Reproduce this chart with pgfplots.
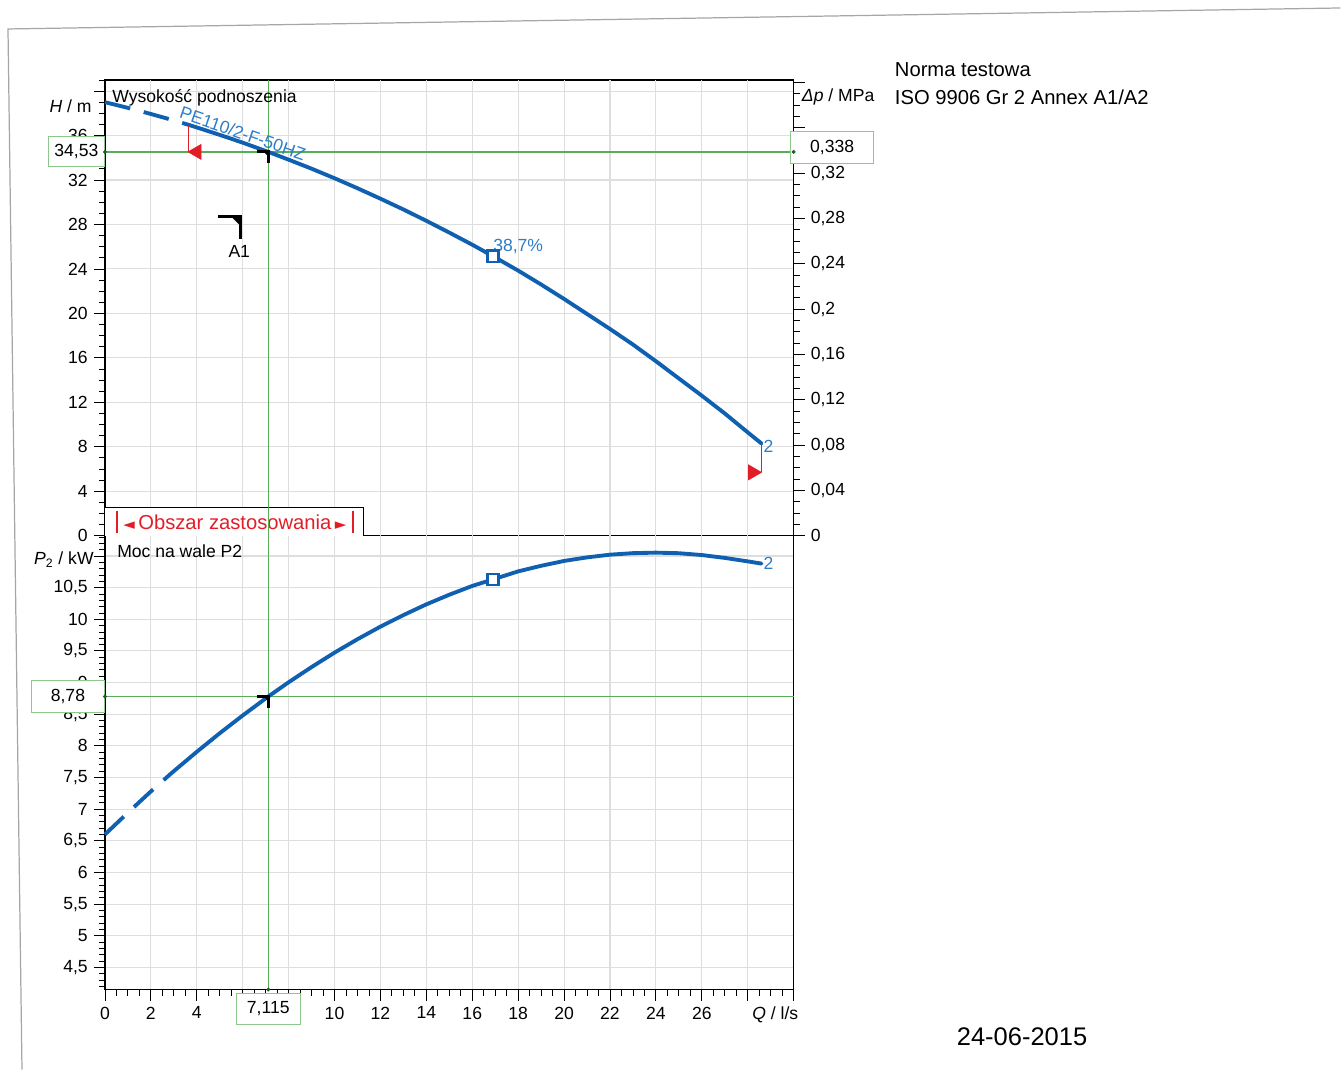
\documentclass[border=0pt]{standalone}
\usepackage{pgfplots}
\pgfplotsset{compat=1.18}
\usepackage{fontspec}
\setmainfont{Liberation Sans}
\newfontfamily\symfont{DejaVu Sans}

\definecolor{curve}{RGB}{16,96,178}
\definecolor{curvetext}{RGB}{45,125,200}
\definecolor{opgreen}{RGB}{85,175,85}
\definecolor{boxgreen}{RGB}{140,200,140}
\definecolor{dotgreen}{RGB}{40,90,40}
\definecolor{redmark}{RGB}{225,30,40}
\definecolor{gridgray}{RGB}{222,222,222}

% corner marker used for the duty point and the A1 key
\pgfdeclareplotmark{corner}{%
  \pgfpathmoveto{\pgfpoint{-\pgfplotmarksize}{0pt}}%
  \pgfpathlineto{\pgfpoint{0pt}{0pt}}%
  \pgfpathlineto{\pgfpoint{0pt}{-\pgfplotmarksize}}%
  \pgfusepathqstroke
  \pgfpathmoveto{\pgfpoint{-0.4\pgfplotmarksize}{0pt}}%
  \pgfpathlineto{\pgfpoint{0pt}{0pt}}%
  \pgfpathlineto{\pgfpoint{0pt}{-0.4\pgfplotmarksize}}%
  \pgfpathclose\pgfusepathqfill
}

\tikzset{
  valbox/.style={draw=boxgreen, fill=white, line width=0.6pt, inner sep=0pt,
    font=\fontsize{10}{12}\selectfont},
}

\pgfplotsset{
  pumpaxis/.style={
    set layers,
    scale only axis,
    width=13.78cm,
    xmin=0, xmax=30,
    clip=false,
    axis line style={black, line width=0.8pt},
    tick style={black, line width=0.5pt},
    major tick length=2.2mm,
    minor tick length=1.2mm,
    tick align=outside,
    major grid style={gridgray, line width=0.6pt},
    tick label style={font=\fontsize{10}{12}\selectfont},
    /pgf/number format/use comma,
    /pgf/number format/1000 sep={},
    /pgf/number format/assume math mode=true,
  },
  solidcurve/.style={curve, line width=2.2pt, line join=round, line cap=round},
  dashcurve/.style={curve, line width=2.2pt, dash pattern=on 5.2mm off 2.8mm},
  opline/.style={opgreen, line width=0.75pt},
  dots/.style={only marks, mark=*, mark size=0.9pt, dotgreen},
  effmark/.style={only marks, mark=square*, mark size=3.2pt,
    mark options={fill=white, draw=curve, line width=1.4pt}},
}

\begin{document}
\begin{tikzpicture}
% page size of the scan
\path (0,0) rectangle (26.82,21.40);

% page edge from the scan
\draw[gray!70, line width=0.7pt] (0.44,0) -- (0.16,20.82) -- (26.82,21.24);

% ---------------- head curve H(Q) ----------------
\begin{axis}[pumpaxis, at={(2.10cm,10.68cm)}, anchor=south west, height=9.12cm,
  ymin=0, ymax=41,
  xtick=\empty,
  ytick={0,4,...,36}, extra y ticks={40}, extra y tick labels={},
  minor ytick={0,1,...,41},
  ymajorgrids, ytick pos=left]
  \pgfplotsinvokeforeach{2,4,6,8,10,12,14,16,18,20,22,24,26,28}{
    \addplot[gridgray, line width=0.6pt] coordinates {(#1,0) (#1,41)};
  }
  % application range box
  \draw[black, line width=0.6pt, fill=white] (axis cs:0,0) -- (axis cs:0,2.52)
    -- (axis cs:11.28,2.52) -- (axis cs:11.28,0);
  \draw[redmark, line width=1pt] (axis cs:0.52,0.27) -- (axis cs:0.52,2.2);
  \draw[redmark, line width=1pt] (axis cs:10.8,0.27) -- (axis cs:10.8,2.2);
  \node[redmark, font=\fontsize{11.5}{13}\selectfont] at (axis cs:5.66,1.2)
    {{\symfont\fontsize{8.5}{9}\selectfont ◄}\,Obszar zastosowania\,{\symfont\fontsize{8.5}{9}\selectfont ►}};

  \addplot[opline] coordinates {(7.115,0) (7.115,41)};
  \addplot[opline] coordinates {(0,34.53) (30,34.53)};

  \addplot[dashcurve] coordinates {(0,39.0) (1,38.49) (2,37.94) (3,37.36) (3.65,36.96)};
  \addplot[solidcurve] coordinates {
    (3.65,36.96) (4,36.73) (5,36.06) (6,35.36) (7.115,34.53) (8,33.83) (9,33.02)
    (10,32.16) (11,31.26) (12,30.32) (13,29.35) (14,28.33) (15,27.27) (16,26.18)
    (16.9,25.15) (18,23.85) (19,22.6) (20,21.3) (21,19.95) (22,18.6) (23,17.2)
    (24,15.7) (25,14.15) (26,12.6) (27,11.0) (28,9.3) (28.6,8.3)};
  \addplot[effmark] coordinates {(16.9,25.15)};
  \node[anchor=base west, text=curvetext, font=\fontsize{10}{12}\selectfont, inner sep=0pt]
    at (axis cs:16.9,25.6) {38,7\%};
  \node[anchor=west, text=curvetext, font=\fontsize{10}{12}\selectfont, inner sep=1pt]
    at (axis cs:28.6,8.0) {2};
  \node[anchor=base west, rotate=-19, text=curvetext, font=\fontsize{10}{12}\selectfont, inner sep=0pt]
    at (axis cs:3.2,37.6) {PE110/2-F-50HZ};

  % operating range limits
  \addplot[redmark, line width=0.5pt] coordinates {(3.65,34.53) (3.65,36.96)};
  \addplot[only marks, mark=triangle*, mark size=4.9pt,
    mark options={rotate=90, fill=redmark, draw=redmark}] coordinates {(4.0,34.53)};
  \addplot[redmark, line width=0.5pt] coordinates {(28.6,5.7) (28.6,8.3)};
  \addplot[only marks, mark=triangle*, mark size=4.9pt,
    mark options={rotate=-90, fill=redmark, draw=redmark}] coordinates {(28.22,5.7)};

  % duty point and A1 key
  \addplot[only marks, mark=corner, mark size=2.3mm,
    mark options={black, line width=1.8pt}] coordinates {(7.115,34.53)};
  \addplot[only marks, mark=corner, mark size=4.5mm,
    mark options={black, line width=1.8pt}] coordinates {(5.9,28.7)};
  \node[font=\fontsize{10}{12}\selectfont] at (axis cs:5.85,25.6) {A1};

  \addplot[dots] coordinates {(0,34.53)};
  \node[valbox, anchor=east, minimum width=1.12cm, minimum height=0.6cm]
    at (axis cs:0,34.53) {34,53};

  \node[anchor=base west, font=\fontsize{10}{12}\selectfont, inner sep=0pt]
    at (rel axis cs:0.0102,0.9496) {Wysokość podnoszenia};
  \node[anchor=east, font=\fontsize{10}{12}\selectfont, inner sep=0pt, xshift=-2.6mm]
    at (axis cs:0,38.6) {\textit{H} / m};
\end{axis}

% ---------------- pressure scale on the right ----------------
\begin{axis}[pumpaxis, at={(2.10cm,10.68cm)}, anchor=south west, height=9.12cm,
  ymin=0, ymax=0.4022,
  axis y line*=right, axis x line=none,
  ytick={0,0.04,0.08,0.12,0.16,0.2,0.24,0.28,0.32},
  extra y ticks={0.36,0.4}, extra y tick labels={},
  minor ytick={0,0.01,...,0.40},
  y tick label style={/pgf/number format/fixed, /pgf/number format/precision=2}]
  \addplot[draw=none] coordinates {(0,0)};
  \addplot[dots] coordinates {(30,0.3387)};
  \node[valbox, anchor=west, minimum width=1.66cm, minimum height=0.64cm, yshift=0.08cm]
    at (axis cs:29.85,0.3387) {0,338};
  \node[anchor=west, font=\fontsize{10}{12}\selectfont, inner sep=0pt, xshift=1.6mm]
    at (axis cs:30,0.3875) {\textit{Δp} / MPa};
\end{axis}

% ---------------- shaft power P2(Q) ----------------
\begin{axis}[pumpaxis, at={(2.10cm,1.60cm)}, anchor=south west, height=9.08cm,
  ymin=4.15, ymax=11.32,
  xtick={0,2,...,30},
  xticklabels={0,2,4,{},{},10,12,14,16,18,20,22,24,26,{},{}},
  minor xtick={0,0.5,...,30},
  ytick={4.5,5,...,10.5}, extra y ticks={11}, extra y tick labels={},
  minor ytick={4.2,4.3,...,11.3},
  grid=major, xtick pos=left, ytick pos=left]
  \addplot[opline] coordinates {(7.115,4.15) (7.115,11.32)};
  \addplot[opline] coordinates {(0,8.78) (30,8.78)};

  \addplot[dashcurve] coordinates {(0,6.60) (1,6.945) (2,7.28) (2.9,7.57)};
  \addplot[solidcurve] coordinates {
    (2.9,7.57) (4,7.906) (5,8.20) (6,8.48) (7.115,8.78) (8,9.005) (9,9.245)
    (10,9.473) (11,9.685) (12,9.884) (13,10.066) (14,10.236) (15,10.388)
    (16,10.527) (16.9,10.63) (18,10.757) (19,10.845) (20,10.922) (21,10.978)
    (22,11.021) (23,11.045) (24,11.053) (25,11.044) (26,11.015) (27,10.97)
    (28,10.915) (28.6,10.88)};
  \addplot[effmark] coordinates {(16.9,10.63)};
  \node[anchor=west, text=curvetext, font=\fontsize{10}{12}\selectfont, inner sep=1pt]
    at (axis cs:28.6,10.88) {2};

  \addplot[only marks, mark=corner, mark size=2.3mm,
    mark options={black, line width=1.8pt}] coordinates {(7.115,8.78)};

  \addplot[dots] coordinates {(0,8.78) (7.115,4.15)};
  \node[valbox, anchor=east, minimum width=1.46cm, minimum height=0.64cm]
    at (axis cs:0,8.78) {8,78};
  \node[valbox, anchor=north, minimum width=1.28cm, minimum height=0.62cm, yshift=-0.06cm]
    at (axis cs:7.115,4.15) {7,115};

  \node[anchor=base west, font=\fontsize{10}{12}\selectfont, inner sep=0pt]
    at (rel axis cs:0.0174,0.9515) {Moc na wale P2};
  \node[anchor=east, font=\fontsize{10}{12}\selectfont, inner sep=0pt, xshift=-2.2mm]
    at (axis cs:0,10.94) {\textit{P}\textsubscript{2} / kW};
  \node[anchor=north, font=\fontsize{10}{12}\selectfont, yshift=-2.2mm]
    at (axis cs:29.2,4.15) {\textit{Q} / l/s};
\end{axis}

% ---------------- page text ----------------
\node[anchor=base west, font=\fontsize{11.5}{14}\selectfont, inner sep=0pt]
  at (17.90,19.86) {Norma testowa};
\node[anchor=base west, font=\fontsize{11.5}{14}\selectfont, inner sep=0pt]
  at (17.90,19.30) {ISO 9906 Gr 2 Annex A1/A2};
\node[anchor=base west, font=\fontsize{14.5}{17}\selectfont, inner sep=0pt]
  at (19.14,0.48) {24-06-2015};
\end{tikzpicture}
\end{document}
